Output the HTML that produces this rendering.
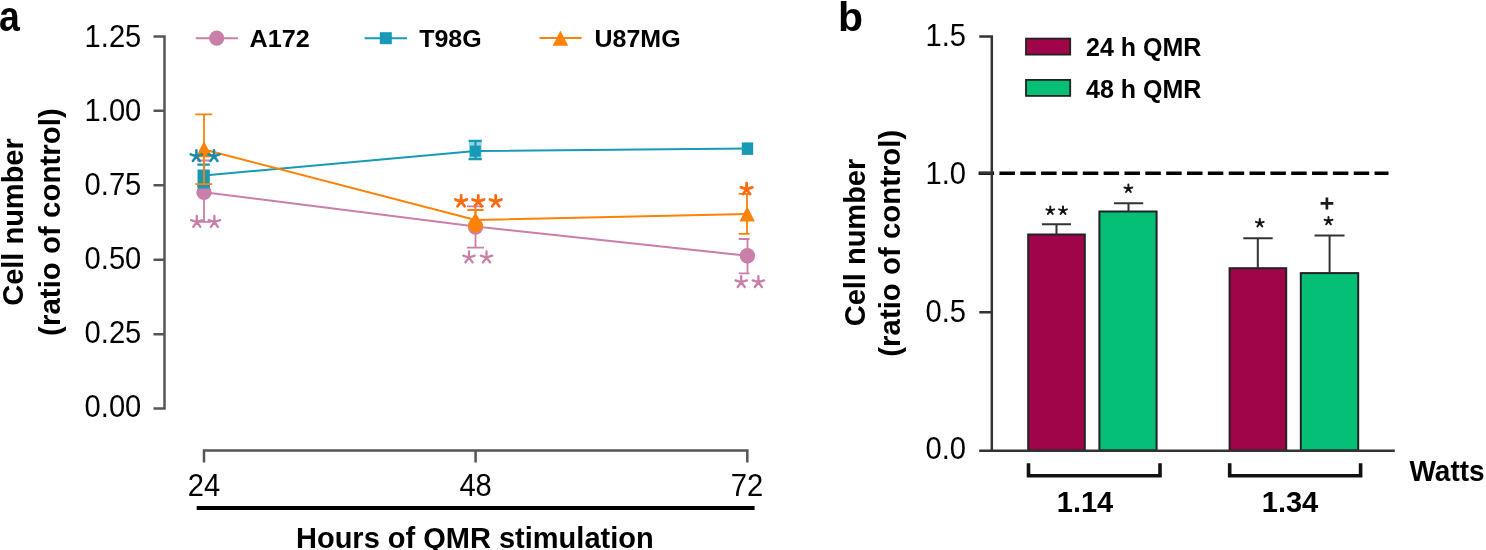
<!DOCTYPE html>
<html><head><meta charset="utf-8">
<style>
html,body{margin:0;padding:0;background:#fff;}
body{width:1486px;height:550px;overflow:hidden;}
svg{display:block;}
#w{width:1486px;height:550px;will-change:transform;}
text{font-family:"Liberation Sans",sans-serif;}
</style></head>
<body>
<div id="w">
<svg width="1486" height="550" viewBox="0 0 1486 550">
<defs>
<path id="st" d="M0,0 L0,-6 M0,0 L5.71,-1.85 M0,0 L-5.71,-1.85 M0,0 L3.53,4.85 M0,0 L-3.53,4.85" stroke-linecap="round" fill="none"/>
</defs>
<g>
<text transform="translate(-1.0,31.4) scale(0.87,1.0)" font-size="43" text-anchor="start" font-weight="bold" fill="#000">a</text>
<text transform="translate(23,222) rotate(-90)" font-size="29" text-anchor="middle" font-weight="bold" fill="#000">Cell number</text>
<text transform="translate(59.5,222) rotate(-90)" font-size="29.5" text-anchor="middle" font-weight="bold" fill="#000">(ratio of control)</text>
<path d="M164.5,36.4 V408.7 M153.5,36.4 H165.7 M153.5,110.8 H165.7 M153.5,185.3 H165.7 M153.5,259.8 H165.7 M153.5,334.2 H165.7 M153.5,408.6 H165.7" stroke="#555" stroke-width="2.5" fill="none"/>
<text transform="translate(141.3,46.7) scale(0.94,1.0)" font-size="31" text-anchor="end" fill="#000">1.25</text>
<text transform="translate(141.3,120.8) scale(0.94,1.0)" font-size="31" text-anchor="end" fill="#000">1.00</text>
<text transform="translate(141.3,194.9) scale(0.94,1.0)" font-size="31" text-anchor="end" fill="#000">0.75</text>
<text transform="translate(141.3,268.9) scale(0.94,1.0)" font-size="31" text-anchor="end" fill="#000">0.50</text>
<text transform="translate(141.3,343.0) scale(0.94,1.0)" font-size="31" text-anchor="end" fill="#000">0.25</text>
<text transform="translate(141.3,417.1) scale(0.94,1.0)" font-size="31" text-anchor="end" fill="#000">0.00</text>
<path d="M204,462.6 V450.5 H747.3 V462.6 M475.6,450.5 V462.6" stroke="#555" stroke-width="2.5" fill="none"/>
<text transform="translate(204,495.7) scale(0.94,1.0)" font-size="31" text-anchor="middle" fill="#000">24</text>
<text transform="translate(475.6,495.7) scale(0.94,1.0)" font-size="31" text-anchor="middle" fill="#000">48</text>
<text transform="translate(747,495.7) scale(0.94,1.0)" font-size="31" text-anchor="middle" fill="#000">72</text>
<path d="M196.7,508 H754.6" stroke="#000" stroke-width="3.8"/>
<text transform="translate(296,548)" font-size="29" text-anchor="start" font-weight="bold" fill="#000">Hours of QMR stimulation</text>
<path d="M195.7,38.2 H237.9" stroke="#c97fa8" stroke-width="2"/><circle cx="216.7" cy="38.2" r="7.6" fill="#c97fa8"/>
<text transform="translate(249.5,47.3) scale(1.05,1.0)" font-size="24" text-anchor="start" font-weight="bold" fill="#000">A172</text>
<path d="M364.6,38.2 H407" stroke="#1899b5" stroke-width="2"/><rect x="379.8" y="32.2" width="12" height="12" fill="#1899b5"/>
<text transform="translate(419.2,47.3) scale(1.04,1.0)" font-size="24" text-anchor="start" font-weight="bold" fill="#000">T98G</text>
<path d="M539.5,37.9 H581.6" stroke="#ff8204" stroke-width="2"/><path d="M560.4,30.5 L568.2,45.8 L552.7,45.8 Z" fill="#ff8204"/>
<text transform="translate(594.6,47.3) scale(1.04,1.0)" font-size="24" text-anchor="start" font-weight="bold" fill="#000">U87MG</text>
<g fill="none" stroke-width="2"><polyline points="204,192.3 475.5,226.5 747.5,255.8" stroke="#c97fa8"/><polyline points="204,175.5 475.5,151 747.5,148.5" stroke="#1899b5"/><polyline points="204,149.5 475.5,220 747.5,214" stroke="#ff8204"/></g>
<path stroke="#c97fa8" stroke-width="1.8" fill="none" d="M204,160.5 V221.9 M197,160.5 H211 M197,221.9 H211"/>
<path stroke="#c97fa8" stroke-width="1.8" fill="none" d="M475.5,206.3 V247.7 M467,206.3 H484 M467,247.7 H484"/>
<path stroke="#c97fa8" stroke-width="1.8" fill="none" d="M747.5,239 V273.4 M738.7,239 H749.5 M738.7,273.4 H749.5"/>
<circle cx="204" cy="192.4" r="7.7" fill="#c97fa8"/>
<circle cx="475.5" cy="227" r="7.7" fill="#c97fa8"/>
<circle cx="747.4" cy="255.8" r="7.7" fill="#c97fa8"/>
<rect x="469" y="141" width="12.6" height="18" fill="#1899b5" fill-opacity="0.45"/>
<path stroke="#1899b5" stroke-width="2.2" fill="none" d="M475.5,140.9 V159.2 M468.6,140.9 H481.8 M468.6,159.2 H481.8"/>
<path stroke="#1899b5" stroke-width="2.2" fill="none" d="M204,164.6 V186 M197.3,164.6 H209.8 M197.3,186 H209.8"/>
<rect x="197.5" y="169.5" width="12.3" height="19" fill="#1899b5"/>
<rect x="470" y="145.6" width="10.8" height="11.1" fill="#1899b5"/>
<rect x="741.8" y="142.4" width="11.4" height="12.5" fill="#1899b5"/>
<path stroke="#ff8204" stroke-width="1.8" fill="none" d="M204,114.3 V184.2 M195.3,114.3 H212.2 M195.3,184.2 H212.2"/>
<path stroke="#ff8204" stroke-width="2" fill="none" d="M475.5,210.1 V220 M467.4,210.1 H483.7"/>
<path stroke="#ff8204" stroke-width="1.8" fill="none" d="M747,193.8 V233.9 M738.7,193.8 H749.5 M738.7,233.9 H749.5"/>
<path d="M204,141.3 L212.4,157.3 L195.6,157.3 Z" fill="#ff8204"/>
<circle cx="475.5" cy="225.2" r="7.3" fill="#ff8204"/>
<path d="M475.5,212.6 L482.6,224.5 L468.4,224.5 Z" fill="#ff8204"/>
<path d="M747.2,206.2 L754.8,221.4 L739.6,221.4 Z" fill="#ff8204"/>
<use href="#st" transform="translate(196.4,156.2) scale(1.0)" stroke="#1a8aa8" stroke-width="2.50"/>
<use href="#st" transform="translate(214.0,156.2) scale(1.0)" stroke="#1a8aa8" stroke-width="2.50"/>
<use href="#st" transform="translate(196.8,222.0) scale(1.0)" stroke="#c97fa8" stroke-width="2.30"/>
<use href="#st" transform="translate(214.4,222.0) scale(1.0)" stroke="#c97fa8" stroke-width="2.30"/>
<use href="#st" transform="translate(469,257.5) scale(1.0)" stroke="#c97fa8" stroke-width="2.30"/>
<use href="#st" transform="translate(486.5,257.5) scale(1.0)" stroke="#c97fa8" stroke-width="2.30"/>
<use href="#st" transform="translate(741.2,282.2) scale(1.0)" stroke="#c97fa8" stroke-width="2.30"/>
<use href="#st" transform="translate(758.4,282.2) scale(1.0)" stroke="#c97fa8" stroke-width="2.30"/>
<use href="#st" transform="translate(461.1,201.4) scale(1.0)" stroke="#ff6a10" stroke-width="2.80"/>
<use href="#st" transform="translate(478.3,201.4) scale(1.0)" stroke="#ff6a10" stroke-width="2.80"/>
<use href="#st" transform="translate(495.7,201.4) scale(1.0)" stroke="#ff6a10" stroke-width="2.80"/>
<use href="#st" transform="translate(746.6,189.2) scale(1.0)" stroke="#ff6a10" stroke-width="2.80"/>
<text transform="translate(838,31)" font-size="41" text-anchor="start" font-weight="bold" fill="#000">b</text>
<text transform="translate(865,242.5) rotate(-90)" font-size="29" text-anchor="middle" font-weight="bold" fill="#000">Cell number</text>
<text transform="translate(900,243.2) rotate(-90)" font-size="29.4" text-anchor="middle" font-weight="bold" fill="#000">(ratio of control)</text>
<path d="M978.6,173.2 H1388.5" stroke="#000" stroke-width="3.6" stroke-dasharray="15.5 5.34"/>
<g stroke="#222" stroke-width="2"><rect x="1028.2" y="234.5" width="56.6" height="216" fill="#a00449"/><rect x="1099.4" y="211.5" width="57.2" height="239" fill="#06bf76"/><rect x="1229.6" y="268.2" width="56.6" height="182.3" fill="#a00449"/><rect x="1300.8" y="273.1" width="57.4" height="177.4" fill="#06bf76"/></g>
<g stroke="#333" stroke-width="2" fill="none"><path d="M1056.5,234.5 V224.2 M1041.9,224.2 H1071"/><path d="M1128.5,211.5 V203.3 M1114,203.3 H1143.2"/><path d="M1257.8,268.2 V238.2 M1243.3,238.2 H1272.7"/><path d="M1329.6,273.1 V235.5 M1314.5,235.5 H1344.5"/></g>
<g stroke="#333" stroke-width="2.5" fill="none"><path d="M991.8,36.4 V450.7"/><path d="M979.3,36.4 H993 M979.3,312.3 H993 M979.3,173.2 H993"/><path d="M979.2,450.7 H1394.8"/></g>
<text transform="translate(966,46.2) scale(0.94,1.0)" font-size="31" text-anchor="end" fill="#000">1.5</text>
<text transform="translate(966,184) scale(0.94,1.0)" font-size="31" text-anchor="end" fill="#000">1.0</text>
<text transform="translate(966,321.8) scale(0.94,1.0)" font-size="31" text-anchor="end" fill="#000">0.5</text>
<text transform="translate(966,459.4) scale(0.94,1.0)" font-size="31" text-anchor="end" fill="#000">0.0</text>
<use href="#st" transform="translate(1050.3,210.6) scale(0.68)" stroke="#1a1a1a" stroke-width="2.94"/>
<circle cx="1050.3" cy="210.6" r="1.9" fill="#111"/>
<use href="#st" transform="translate(1063.0,210.6) scale(0.68)" stroke="#1a1a1a" stroke-width="2.94"/>
<circle cx="1063.0" cy="210.6" r="1.9" fill="#111"/>
<use href="#st" transform="translate(1128.4,188.7) scale(0.68)" stroke="#1a1a1a" stroke-width="2.94"/>
<circle cx="1128.4" cy="188.7" r="1.9" fill="#111"/>
<use href="#st" transform="translate(1259.8,223.1) scale(0.68)" stroke="#1a1a1a" stroke-width="2.94"/>
<circle cx="1259.8" cy="223.1" r="1.9" fill="#111"/>
<use href="#st" transform="translate(1328.5,221.0) scale(0.68)" stroke="#1a1a1a" stroke-width="2.94"/>
<circle cx="1328.5" cy="221.0" r="1.9" fill="#111"/>
<path d="M1320.6,203.4 H1333.3 M1326.9,197.4 V209.6" stroke="#1a1a1a" stroke-width="2.7"/>
<g stroke="#111" stroke-width="3.6" fill="none"><path d="M1028.5,463.3 V475.8 H1160 V463.3"/><path d="M1229.7,463.3 V475.8 H1360.6 V463.3"/></g>
<text transform="translate(1085,512)" font-size="29" text-anchor="middle" font-weight="bold" fill="#000">1.14</text>
<text transform="translate(1290,512)" font-size="29" text-anchor="middle" font-weight="bold" fill="#000">1.34</text>
<text transform="translate(1409.5,481) scale(0.965,1.0)" font-size="29" text-anchor="start" font-weight="bold" fill="#000">Watts</text>
<g stroke="#222" stroke-width="1.8"><rect x="1026" y="38.6" width="44.2" height="16" fill="#a00449"/><rect x="1026" y="79.9" width="44.2" height="16" fill="#06bf76"/></g>
<text transform="translate(1086,55.5)" font-size="25" text-anchor="start" font-weight="bold" fill="#000">24 h QMR</text>
<text transform="translate(1086,97.5)" font-size="25" text-anchor="start" font-weight="bold" fill="#000">48 h QMR</text>
</g></svg>
</div>
</body></html>
